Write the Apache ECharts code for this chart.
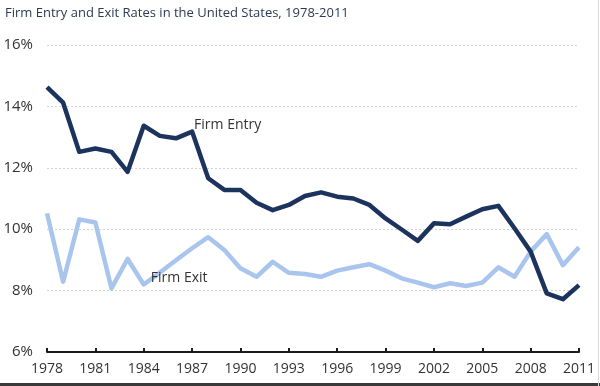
<!DOCTYPE html>
<html><head><meta charset="utf-8">
<script src="https://cdn.jsdelivr.net/npm/echarts@6/dist/echarts.min.js"></script>
<style>html,body{margin:0;padding:0;background:#fff}#c{width:600px;height:386px}</style>
</head><body><div id="c"></div>
<script>
var years = [];
for (var y = 1978; y <= 2011; y++) years.push(String(y));
var entryRates = [14.63,14.12,12.52,12.63,12.52,11.87,13.37,13.04,12.96,13.18,11.66,11.28,11.28,10.86,10.62,10.79,11.08,11.20,11.06,11.00,10.79,10.35,9.99,9.62,10.19,10.16,10.41,10.65,10.76,10.03,9.27,7.91,7.72,8.18];
var exitRates = [10.52,8.29,10.32,10.22,8.07,9.03,8.20,8.59,8.99,9.38,9.74,9.32,8.73,8.45,8.94,8.58,8.54,8.45,8.65,8.76,8.86,8.65,8.40,8.26,8.11,8.24,8.15,8.26,8.76,8.45,9.27,9.84,8.83,9.41];
var yTicks = [6, 8, 10, 12, 14, 16];
var titleText = 'Firm Entry and Exit Rates in the United States, 1978-2011';
var fontFam = '"Open Sans", "DejaVu Sans", sans-serif';

var chart = echarts.init(document.getElementById('c'), null, {renderer: 'canvas'});
chart.setOption({
  animation: false,
  backgroundColor: '#fff',
  title: {text: titleText, left: 0, top: 2,
    textStyle: {fontSize: 13, fontWeight: 'normal', color: '#2b3a55', fontFamily: fontFam}},
  grid: {left: 47, right: 21, top: 45, bottom: 34},
  xAxis: {
    type: 'category', data: years, boundaryGap: false,
    axisLine: {lineStyle: {color: '#1a1a1a', width: 2}},
    axisTick: {inside: true, length: 4, interval: 2, lineStyle: {color: '#1a1a1a', width: 2}},
    axisLabel: {interval: 2, color: '#333', fontSize: 14, margin: 10, fontFamily: fontFam},
    splitLine: {show: false}
  },
  yAxis: {
    type: 'value', min: yTicks[0], max: yTicks[yTicks.length - 1], interval: 2,
    axisLine: {show: false}, axisTick: {show: false},
    axisLabel: {formatter: '{value}%', color: '#333', fontSize: 15, margin: 14, fontFamily: fontFam,
      showMinLabel: true},
    splitLine: {show: true, lineStyle: {color: '#d4d4d4', type: [2, 2], width: 1}}
  },
  series: [
    {name: 'Firm Exit', type: 'line', data: exitRates, symbol: 'none',
      lineStyle: {color: '#a9c5ee', width: 4.5, join: 'round'}, z: 2,
      markPoint: {symbol: 'circle', symbolSize: 0, silent: true,
        data: [{coord: ['1985', 8.42], value: 'Firm Exit'}],
        label: {show: true, formatter: 'Firm Exit', position: 'inside', align: 'left', offset: [-9, 0],
          color: '#333', fontSize: 14, fontFamily: fontFam}}},
    {name: 'Firm Entry', type: 'line', data: entryRates, symbol: 'none',
      lineStyle: {color: '#1c335e', width: 4.5, join: 'round'}, z: 3,
      markPoint: {symbol: 'circle', symbolSize: 0, silent: true,
        data: [{coord: ['1987', 13.39], value: 'Firm Entry'}],
        label: {show: true, formatter: 'Firm Entry', position: 'inside', align: 'left', offset: [2, 0],
          color: '#333', fontSize: 14, fontFamily: fontFam}}}
  ],
  graphic: [
    {type: 'rect', left: 0, bottom: 0, shape: {width: 600, height: 3}, style: {fill: '#3a3a3a'}, silent: true},
    {type: 'rect', right: 1, top: 0, shape: {width: 1, height: 386}, style: {fill: '#d8d8d8'}, silent: true}
  ]
});
</script></body></html>
